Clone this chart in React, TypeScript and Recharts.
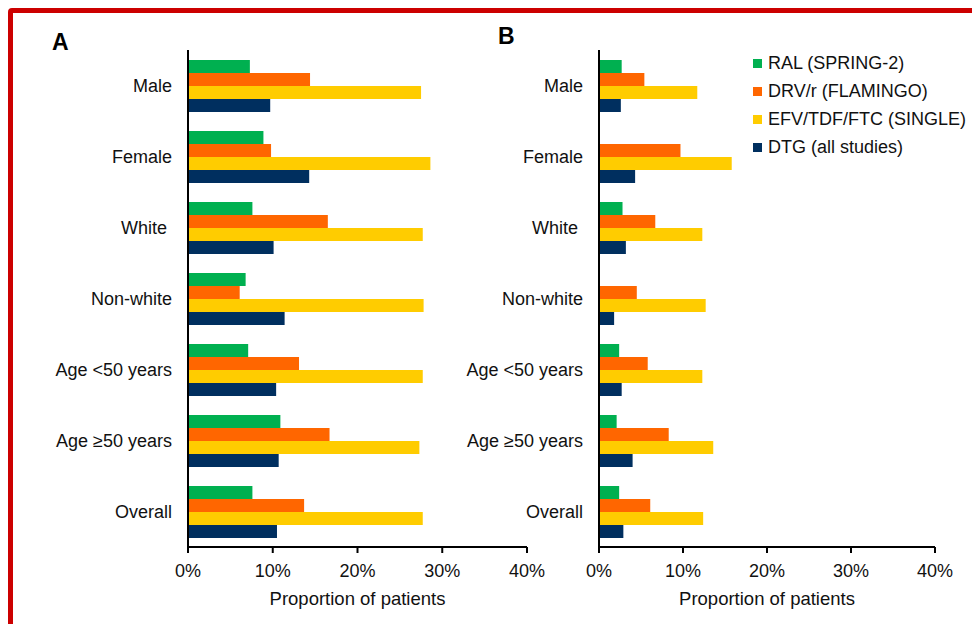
import React from 'react';
import { BarChart, Bar, XAxis, YAxis, Legend, Label } from 'recharts';

// Subgroups shown on the category axis, top to bottom
const subgroups = ['Male', 'Female', 'White\u00A0', 'Non-white', 'Age <50 years', 'Age \u226550 years', 'Overall'];

// Panel A – proportion of patients (%)
const ralA = [7.3, 8.9, 7.6, 6.8, 7.1, 10.9, 7.6];
const drvA = [14.4, 9.8, 16.5, 6.1, 13.1, 16.7, 13.7];
const efvA = [27.5, 28.6, 27.7, 27.8, 27.7, 27.3, 27.7];
const dtgA = [9.7, 14.3, 10.1, 11.4, 10.4, 10.7, 10.5];

// Panel B – proportion of patients (%)
const ralB = [2.7, 0, 2.8, 0, 2.4, 2.1, 2.4];
const drvB = [5.4, 9.7, 6.7, 4.5, 5.8, 8.3, 6.1];
const efvB = [11.7, 15.8, 12.3, 12.7, 12.3, 13.6, 12.4];
const dtgB = [2.6, 4.3, 3.2, 1.8, 2.7, 4.0, 2.9];

const xTicks = [0, 10, 20, 30, 40];

const seriesKeys = ['ral', 'drv', 'efv', 'dtg'];

const seriesNames: Record<string, string> = {
  ral: 'RAL (SPRING-2)',
  drv: 'DRV/r (FLAMINGO)',
  efv: 'EFV/TDF/FTC (SINGLE)',
  dtg: 'DTG (all studies)',
};

const colors: Record<string, string> = {
  ral: '#00B050',
  drv: '#FF6600',
  efv: '#FFCC00',
  dtg: '#002F5F',
};

const buildRows = (ral: number[], drv: number[], efv: number[], dtg: number[]) =>
  subgroups.map((name, i) => ({ name, ral: ral[i], drv: drv[i], efv: efv[i], dtg: dtg[i] }));

const dataA = buildRows(ralA, drvA, efvA, dtgA);
const dataB = buildRows(ralB, drvB, efvB, dtgB);

const FONT = '"Liberation Sans", Arial, Helvetica, sans-serif';
const TEXT = '#111';

// Legend entries kept in series (drawing) order
const LegendList = (props: any) => {
  const items = [...(props.payload || [])].sort(
    (a: any, b: any) => seriesKeys.indexOf(a.dataKey) - seriesKeys.indexOf(b.dataKey)
  );
  return (
    <div style={{ fontFamily: FONT, fontSize: 18, color: TEXT }}>
      {items.map((it: any) => (
        <div key={it.value} style={{ height: 28, display: 'flex', alignItems: 'center', whiteSpace: 'nowrap' }}>
          <span style={{ width: 9, height: 9, background: it.color, display: 'inline-block', marginRight: 6 }} />
          <span>{it.value}</span>
        </div>
      ))}
    </div>
  );
};

type PanelProps = {
  data: any[];
  yWidth: number;
  rightMargin: number;
  showLegend?: boolean;
};

const Panel = ({ data, yWidth, rightMargin, showLegend }: PanelProps) => (
  <BarChart
    width={540}
    height={616}
    data={data}
    layout="vertical"
    margin={{ top: 42, right: rightMargin, bottom: 0, left: 0 }}
    barCategoryGap={10}
    barGap={0}
  >
    <XAxis
      type="number"
      domain={[0, 40]}
      ticks={xTicks}
      tickFormatter={(v: number) => `${v}%`}
      height={77}
      axisLine={{ stroke: '#000', strokeWidth: 2 }}
      tickLine={{ stroke: '#000', strokeWidth: 2 }}
      tickSize={6}
      tickMargin={11}
      tick={{ fill: TEXT, fontSize: 18 }}
      interval={0}
    >
      <Label value="Proportion of patients" position="insideBottom" offset={19} fill={TEXT} fontSize={18.5} />
    </XAxis>
    <YAxis
      type="category"
      dataKey="name"
      width={yWidth}
      axisLine={{ stroke: '#000', strokeWidth: 2 }}
      tickLine={false}
      tickSize={0}
      tickMargin={16}
      tick={{ fill: TEXT, fontSize: 18 }}
      interval={0}
    />
    {showLegend && (
      <Legend
        layout="vertical"
        align="center"
        verticalAlign="middle"
        itemSorter={null as any}
        content={<LegendList />}
        wrapperStyle={{ top: 41, left: 313, width: 'auto' }}
      />
    )}
    {seriesKeys.map((k) => (
      <Bar key={k} dataKey={k} name={seriesNames[k]} fill={colors[k]} isAnimationActive={false} />
    ))}
  </BarChart>
);

export default function App() {
  return (
    <div style={{ position: 'relative', width: 972, height: 616, overflow: 'hidden', fontFamily: FONT, background: '#fff' }}>
      <div
        style={{
          position: 'absolute',
          left: 0,
          top: 0,
          width: 972,
          height: 640,
          boxSizing: 'border-box',
          border: '5px solid #CC0000',
          borderRadius: 4,
        }}
      />
      <div style={{ position: 'absolute', left: 0, top: 0 }}>
        <Panel data={dataA} yWidth={180} rightMargin={21} />
      </div>
      <div style={{ position: 'absolute', left: 432, top: 0 }}>
        <Panel data={dataB} yWidth={159} rightMargin={45} showLegend />
      </div>
      <svg width={972} height={80} style={{ position: 'absolute', left: 0, top: 0, pointerEvents: 'none' }}>
        <text x={44} y={42} fontSize={23} fontWeight="bold" fill="#000" fontFamily={FONT}>A</text>
        <text x={490} y={36} fontSize={23} fontWeight="bold" fill="#000" fontFamily={FONT}>B</text>
      </svg>
    </div>
  );
}
